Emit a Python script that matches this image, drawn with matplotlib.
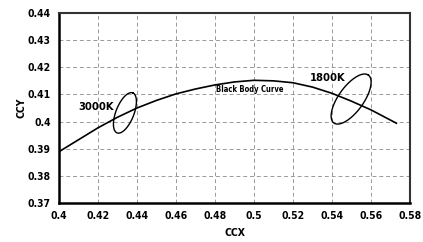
import numpy as np
import matplotlib
matplotlib.use("Agg")
import matplotlib.pyplot as plt

# black body curve
bb_x = [0.400, 0.420, 0.430, 0.440, 0.450, 0.460, 0.470, 0.480, 0.490, 0.500,
        0.510, 0.520, 0.530, 0.540, 0.550, 0.560, 0.573]
bb_y = [0.3889, 0.3977, 0.4016, 0.4050, 0.4078, 0.4102, 0.4120, 0.4135, 0.4146, 0.4152,
        0.4150, 0.4143, 0.4127, 0.4104, 0.4075, 0.4043, 0.3994]

# ellipses: center, half major axis vector, half minor axis vector (data units)
ell_names = ["3000K", "1800K"]
ell_center = [(0.4338, 0.4032), (0.5498, 0.4083)]
ell_major = [(0.00405, 0.00737), (0.00883, 0.00883)]
ell_minor = [(-0.00429, 0.00122), (-0.00521, 0.00269)]

xticks = [0.4, 0.42, 0.44, 0.46, 0.48, 0.5, 0.52, 0.54, 0.56, 0.58]
yticks = [0.37, 0.38, 0.39, 0.4, 0.41, 0.42, 0.43, 0.44]

font = dict(family="DejaVu Sans", stretch="condensed", weight="bold")

fig = plt.figure(figsize=(4.23, 2.42), dpi=100)
ax = fig.add_axes([0.1395, 0.1612, 0.8298, 0.7851])

ax.plot(bb_x, bb_y, color="black", lw=1.2)
t = np.linspace(0, 2 * np.pi, 200)
for c, M, m in zip(ell_center, ell_major, ell_minor):
    ex = c[0] + M[0] * np.cos(t) + m[0] * np.sin(t)
    ey = c[1] + M[1] * np.cos(t) + m[1] * np.sin(t)
    ax.plot(ex, ey, color="black", lw=1.0)

ax.text(0.419, 0.4054, "3000K", ha="center", va="center", fontsize=8, **font)
ax.text(0.5377, 0.4160, "1800K", ha="center", va="center", fontsize=8, **font)
ax.text(0.498, 0.4118, "Black Body Curve", ha="center", va="center", fontsize=5.5, **font)

ax.set_xlim(0.4, 0.58)
ax.set_ylim(0.37, 0.44)
ax.set_xticks(xticks)
ax.set_yticks(yticks)
ax.set_xticklabels([("%g" % v) for v in xticks], fontsize=7.5, **font)
ax.set_yticklabels([("%g" % v) for v in yticks], fontsize=7.5, **font)
ax.tick_params(length=0, pad=6)
ax.grid(True, color="#999999", ls=(0, (4, 3)), lw=0.7)

for s in ["left", "bottom"]:
    ax.spines[s].set_linewidth(1.8)
    ax.spines[s].set_color("black")
for s in ["top", "right"]:
    ax.spines[s].set_linewidth(1.5)
    ax.spines[s].set_color("#333333")

ax.set_xlabel("CCX", fontsize=7.5, **font)
ax.set_ylabel("CCY", fontsize=7.5, **font)
ax.xaxis.set_label_coords(0.5, -0.132)
ax.yaxis.set_label_coords(-0.092, 0.5)

fig.savefig("out.png", dpi=100)
